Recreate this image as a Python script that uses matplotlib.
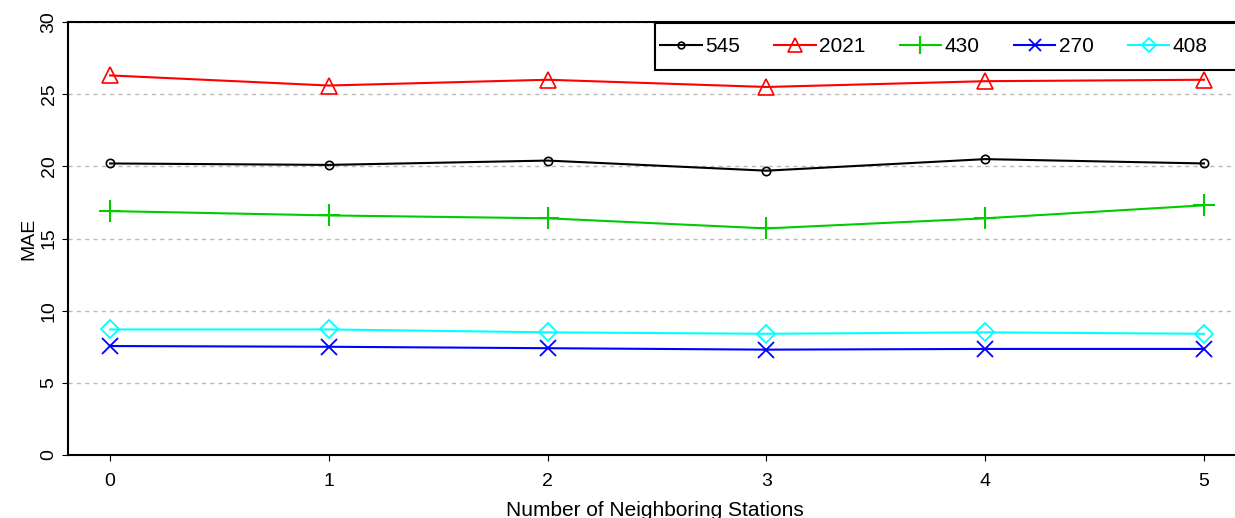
import matplotlib.pyplot as plt
from matplotlib.patches import Rectangle

plt.rcParams['font.family'] = ['Liberation Sans', 'DejaVu Sans']

# 邻近站点数
neighbors = [0, 1, 2, 3, 4, 5]
mae_545 = [20.2, 20.1, 20.4, 19.7, 20.5, 20.2]
mae_2021 = [26.3, 25.6, 26.0, 25.5, 25.9, 26.0]
mae_430 = [16.9, 16.6, 16.4, 15.7, 16.4, 17.3]
mae_270 = [7.55, 7.5, 7.4, 7.3, 7.35, 7.35]
mae_408 = [8.7, 8.7, 8.5, 8.4, 8.5, 8.4]

W, H = 1235, 518
fig = plt.figure(figsize=(W / 100, H / 100), dpi=100)
ax = fig.add_axes([0.055, 0.1216, 0.95, 0.8359])

ax.plot(neighbors, mae_545, color='black', marker='o', ms=6, mfc='none', mew=1.2, lw=1.5, label='545')
ax.plot(neighbors, mae_2021, color='red', marker='^', ms=12, mfc='none', mew=1.2, lw=1.5, label='2021')
ax.plot(neighbors, mae_430, color='#00cc00', marker='+', ms=16, mew=1.5, lw=1.5, label='430')
ax.plot(neighbors, mae_270, color='blue', marker='x', ms=11, mew=1.3, lw=1.5, label='270')
ax.plot(neighbors, mae_408, color='cyan', marker='D', ms=9, mfc='none', mew=1.3, lw=1.5, label='408')

ax.set_xlim(-0.193, 5.17)
ax.set_ylim(0, 30)
ax.set_xticks(neighbors)
ax.set_yticks([0, 5, 10, 15, 20, 25, 30])
for lab in ax.get_yticklabels():
    lab.set_rotation(90)
    lab.set_va('center')
ax.tick_params(labelsize=14, direction='out', length=4)
ax.tick_params(axis='x', pad=9)
ax.yaxis.grid(True, ls=(0, (3, 3)), color='#bbbbbb', lw=1)
ax.spines['right'].set_visible(False)
for s in ['left', 'bottom', 'top']:
    ax.spines[s].set_linewidth(1.5)

ax.set_xlabel('Number of Neighboring Stations', fontsize=15, labelpad=8)
ax.set_ylabel('MAE', fontsize=14, labelpad=2)

# 图例框（右边界伸出画面）
fig.patches.append(Rectangle((655 / W, 1 - 70 / H), 620 / W, 47 / H, transform=fig.transFigure,
                             facecolor='white', edgecolor='black', lw=1.5, zorder=5))
leg = fig.legend(*ax.get_legend_handles_labels(), ncol=5, loc='center left',
                 bbox_to_anchor=(660 / W, 1 - 47 / H), fontsize=15, frameon=False,
                 handlelength=2.0, handletextpad=0.15, columnspacing=1.65,
                 borderpad=0, borderaxespad=0)
leg.set_zorder(6)
for h in leg.legend_handles:
    h.set_markersize(h.get_markersize() * 0.8)

fig.savefig('out.png', dpi=100)
